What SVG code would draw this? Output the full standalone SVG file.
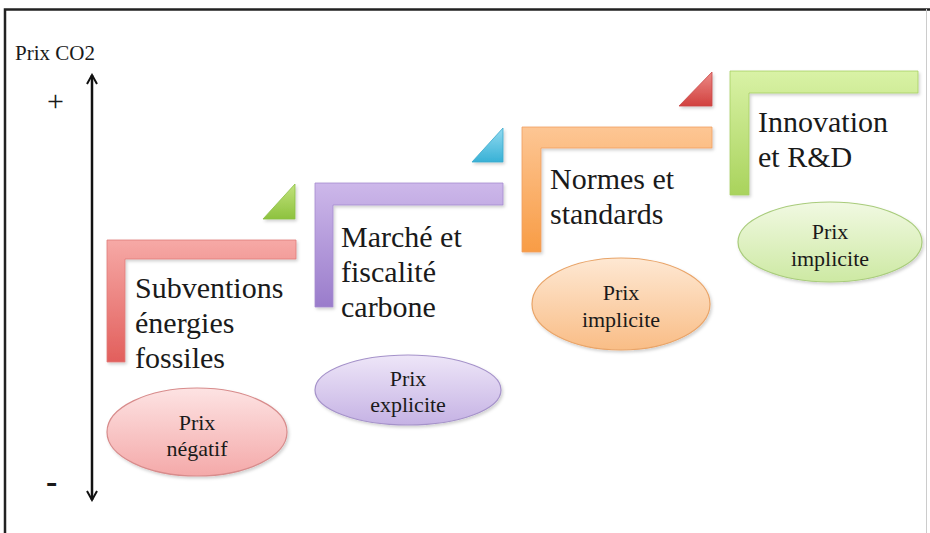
<svg xmlns="http://www.w3.org/2000/svg" width="930" height="533" viewBox="0 0 930 533">
<defs>
<style>
.lbl{font-family:'Liberation Serif','Times New Roman',serif;font-size:30px;fill:#1a1a1a}
.el{font-family:'Liberation Serif','Times New Roman',serif;font-size:22px;fill:#1a1a1a;text-anchor:middle}
.ax{font-family:'Liberation Serif','Times New Roman',serif;fill:#1a1a1a}
</style>
<filter id="sh" x="-10%" y="-10%" width="130%" height="130%"><feDropShadow dx="1.5" dy="2" stdDeviation="1.5" flood-color="#000" flood-opacity="0.18"/></filter>
<linearGradient id="gR" x1="0" y1="0" x2="0" y2="1"><stop offset="0" stop-color="#f6a9a6"/><stop offset="1" stop-color="#e25f5c"/></linearGradient>
<linearGradient id="gP" x1="0" y1="0" x2="0" y2="1"><stop offset="0" stop-color="#cdb8ea"/><stop offset="1" stop-color="#9a7ccb"/></linearGradient>
<linearGradient id="gO" x1="0" y1="0" x2="0" y2="1"><stop offset="0" stop-color="#fdc694"/><stop offset="1" stop-color="#f89c45"/></linearGradient>
<linearGradient id="gG" x1="0" y1="0" x2="0" y2="1"><stop offset="0" stop-color="#d9f2a6"/><stop offset="1" stop-color="#a9d35c"/></linearGradient>
<linearGradient id="tG" x1="0" y1="0" x2="0" y2="1"><stop offset="0" stop-color="#c2e27c"/><stop offset="1" stop-color="#8dc23e"/></linearGradient>
<linearGradient id="tC" x1="0" y1="0" x2="0" y2="1"><stop offset="0" stop-color="#92daf0"/><stop offset="1" stop-color="#38b1d6"/></linearGradient>
<linearGradient id="tR" x1="0" y1="0" x2="0" y2="1"><stop offset="0" stop-color="#ec8a86"/><stop offset="1" stop-color="#d1413f"/></linearGradient>
<linearGradient id="eR" x1="0" y1="0" x2="0" y2="1"><stop offset="0" stop-color="#fde3e3"/><stop offset="1" stop-color="#f4a9a9"/></linearGradient>
<linearGradient id="eP" x1="0" y1="0" x2="0" y2="1"><stop offset="0" stop-color="#eee6f8"/><stop offset="1" stop-color="#c5b2e4"/></linearGradient>
<linearGradient id="eO" x1="0" y1="0" x2="0" y2="1"><stop offset="0" stop-color="#fee8d3"/><stop offset="1" stop-color="#f9bd86"/></linearGradient>
<linearGradient id="eG" x1="0" y1="0" x2="0" y2="1"><stop offset="0" stop-color="#f1f9e2"/><stop offset="1" stop-color="#cde9a3"/></linearGradient>
<marker id="ah" viewBox="0 0 12 12" refX="10" refY="6" markerWidth="12" markerHeight="12" markerUnits="userSpaceOnUse" orient="auto-start-reverse"><path d="M1,1 L10,6 L1,11" fill="none" stroke="#111" stroke-width="2"/></marker>
</defs>
<rect width="930" height="533" fill="#fff"/>
<path d="M5,533 V9.5 H930" fill="none" stroke="#222" stroke-width="2.5"/>
<line x1="926.5" y1="9" x2="926.5" y2="533" stroke="#ccc" stroke-width="1"/>

<g id="axis">
<text class="ax" x="15" y="60" font-size="21">Prix CO2</text>
<text class="ax" x="47" y="111" font-size="30">+</text>
<text class="ax" x="46" y="493" font-size="34" font-weight="bold">-</text>
</g>

<g id="connectors">
<line x1="92" y1="500" x2="92" y2="75" stroke="#111" stroke-width="2.5" marker-start="url(#ah)" marker-end="url(#ah)"/>
</g>

<g id="node-subventions">
<path d="M107,240 H296 V259 H125 V362 H107 Z" fill="url(#gR)" stroke="#e07c79" stroke-width="0.8" filter="url(#sh)"/>
<path d="M263,219 L295,184 V219 Z" fill="url(#tG)" stroke="#8cbf45" stroke-width="0.8" filter="url(#sh)"/>
<text class="lbl" x="135" y="298">Subventions</text>
<text class="lbl" x="135" y="333">énergies</text>
<text class="lbl" x="135" y="368">fossiles</text>
<ellipse cx="197" cy="432" rx="90" ry="44" fill="url(#eR)" stroke="#d88c8c" stroke-width="1.2" filter="url(#sh)"/>
<text class="el" x="197" y="430">Prix</text>
<text class="el" x="197" y="456">négatif</text>
</g>

<g id="node-marche">
<path d="M315,183 H503 V205 H333 V307 H315 Z" fill="url(#gP)" stroke="#a58ccf" stroke-width="0.8" filter="url(#sh)"/>
<path d="M472,162 L503,128 V162 Z" fill="url(#tC)" stroke="#3aa9cc" stroke-width="0.8" filter="url(#sh)"/>
<text class="lbl" x="341" y="247">Marché et</text>
<text class="lbl" x="341" y="282">fiscalité</text>
<text class="lbl" x="341" y="317">carbone</text>
<ellipse cx="408" cy="390" rx="93" ry="35" fill="url(#eP)" stroke="#a592ca" stroke-width="1.2" filter="url(#sh)"/>
<text class="el" x="408" y="386">Prix</text>
<text class="el" x="408" y="412">explicite</text>
</g>

<g id="node-normes">
<path d="M522,127 H712 V148 H541 V252 H522 Z" fill="url(#gO)" stroke="#f0a060" stroke-width="0.8" filter="url(#sh)"/>
<path d="M679,106 L712,72 V106 Z" fill="url(#tR)" stroke="#c94848" stroke-width="0.8" filter="url(#sh)"/>
<text class="lbl" x="550" y="189">Normes et</text>
<text class="lbl" x="550" y="224">standards</text>
<ellipse cx="621" cy="304" rx="89" ry="46" fill="url(#eO)" stroke="#e9a468" stroke-width="1.2" filter="url(#sh)"/>
<text class="el" x="621" y="300">Prix</text>
<text class="el" x="621" y="327">implicite</text>
</g>

<g id="node-innovation">
<path d="M730,71 H918 V93 H749 V195 H730 Z" fill="url(#gG)" stroke="#a6cf62" stroke-width="0.8" filter="url(#sh)"/>
<text class="lbl" x="758" y="132">Innovation</text>
<text class="lbl" x="758" y="167">et R&amp;D</text>
<ellipse cx="830" cy="242" rx="92" ry="40" fill="url(#eG)" stroke="#a9cc7c" stroke-width="1.2" filter="url(#sh)"/>
<text class="el" x="830" y="239">Prix</text>
<text class="el" x="830" y="266">implicite</text>
</g>
</svg>
